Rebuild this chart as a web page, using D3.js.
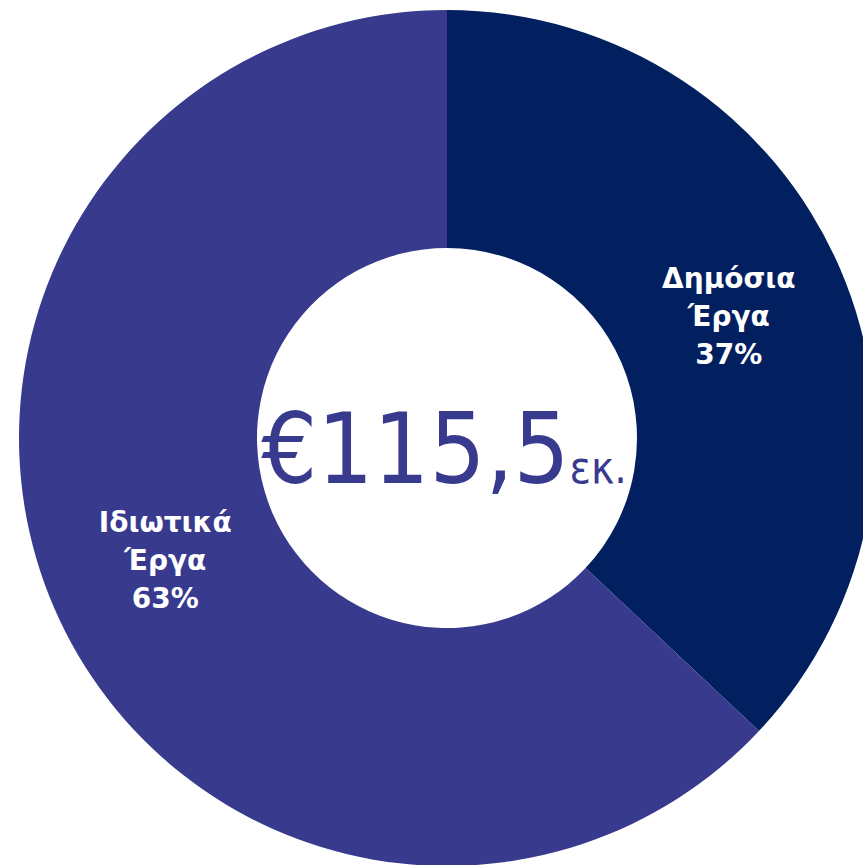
<!DOCTYPE html>
<html><head><meta charset="utf-8">
<script src="https://cdn.jsdelivr.net/npm/d3@7"></script>
<style>html,body{margin:0;padding:0;background:#fff;}svg{display:block;}</style>
</head><body>
<svg id="c" width="863" height="865"></svg>
<script>
const categories = ["Δημόσια Έργα", "Ιδιωτικά Έργα"];
const labelLines = [["Δημόσια", "Έργα"], ["Ιδιωτικά", "Έργα"]];
const values = [37, 63];
const colors = ["#02205F", "#383A8D"];
const totalValue = "€115,5";
const totalUnit = "εκ.";

const svg = d3.select("#c");
const cx = 447, cy = 438, outerR = 428, innerR = 190;
const g = svg.append("g").attr("transform", `translate(${cx},${cy})`);

const pie = d3.pie().sort(null).value(d => d)(values);
const arc = d3.arc().innerRadius(innerR).outerRadius(outerR);

g.selectAll("path").data(pie).join("path")
  .attr("d", arc)
  .attr("fill", (d, i) => colors[i]);

const labelArc = d3.arc().innerRadius(307).outerRadius(307);
pie.forEach((d, i) => {
  const [x, y] = labelArc.centroid(d);
  const t = g.append("text")
    .attr("text-anchor", "middle")
    .attr("font-family", "DejaVu Sans")
    .attr("font-weight", "bold")
    .attr("font-size", 28)
    .attr("fill", "#fff");
  const lines = [...labelLines[i], d3.format(".0f")(values[i]) + "%"];
  lines.forEach((ln, k) => {
    t.append("tspan").attr("x", x).attr("y", y + 10 + (k - 1) * 38).text(ln);
  });
});

const ct = g.append("text")
  .attr("text-anchor", "middle")
  .attr("font-family", "DejaVu Sans Condensed, DejaVu Sans")
  .attr("fill", "#383A8D")
  .attr("y", 45)
  .attr("x", -3);
ct.append("tspan").attr("font-size", 98).text(totalValue);
ct.append("tspan").attr("font-size", 44).text(totalUnit);
</script>
</body></html>
